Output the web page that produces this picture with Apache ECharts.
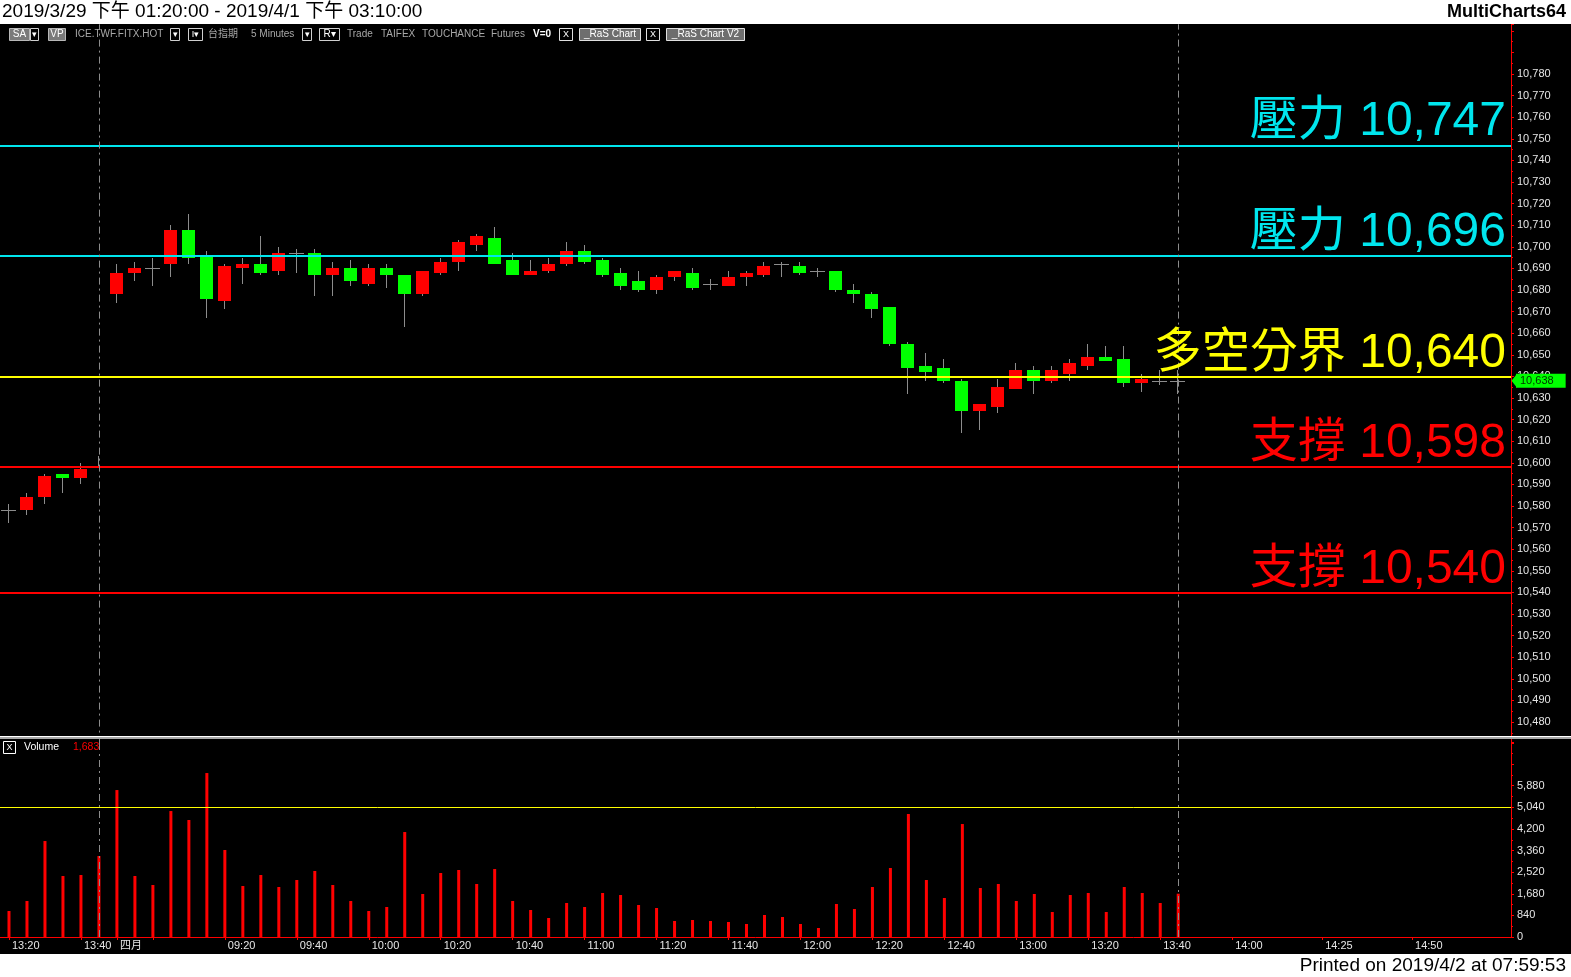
<!DOCTYPE html>
<html><head><meta charset="utf-8">
<script src="https://cdn.jsdelivr.net/npm/echarts@6/dist/echarts.min.js"></script>
<style>html,body{margin:0;padding:0;background:#000;}#c{width:1571px;height:977px;}</style>
</head><body><div id="c"></div><script>
// ---------- data ----------
const day1Times = ['13:20','13:25','13:30','13:35','13:40','13:45'];
const day2Times = ['08:50','08:55','09:00','09:05','09:10','09:15','09:20','09:25','09:30','09:35','09:40','09:45','09:50','09:55',
 '10:00','10:05','10:10','10:15','10:20','10:25','10:30','10:35','10:40','10:45','10:50','10:55',
 '11:00','11:05','11:10','11:15','11:20','11:25','11:30','11:35','11:40','11:45','11:50','11:55',
 '12:00','12:05','12:10','12:15','12:20','12:25','12:30','12:35','12:40','12:45','12:50','12:55',
 '13:00','13:05','13:10','13:15','13:20','13:25','13:30','13:35','13:40','13:45','13:50','13:55',
 '14:00','14:05','14:10','14:15','14:20','14:25','14:30','14:35','14:40','14:45','14:50','14:55',
 '15:00','15:05','15:10','15:15'];
const categories = day1Times.map(t => '3/29 ' + t).concat(day2Times.map(t => '4/1 ' + t));

const opens  = [10578,10578,10584,10595,10593,10598,
 10678,10688,10690,10692,10708,10696,10675,10690,10692,10689,10697,10697,10687,10690,10683,10690,10687,10678,10688,10693,
 10701,10704,10694,10687,10689,10692,10698,10694,10688,10684,10680,10686,10688,10683,10682,10686,10687,10692,10691,10689,
 10689,10680,10678,10672,10655,10645,10644,10638,10624,10626,10634,10643,10638,10641,10645,10649,10648,10637,10638,10638];
const highs  = [10581,10586,10595,10595,10600,10603,
 10692,10693,10695,10710,10715,10698,10692,10695,10705,10700,10699,10699,10693,10694,10692,10692,10687,10689,10695,10703,
 10706,10709,10697,10694,10695,10702,10701,10695,10690,10689,10687,10689,10690,10685,10689,10689,10693,10693,10693,10690,
 10689,10683,10679,10672,10656,10651,10648,10639,10627,10639,10646,10645,10645,10648,10655,10654,10654,10641,10643,10643];
const lows   = [10572,10576,10581,10586,10590,10598,
 10674,10684,10682,10686,10692,10667,10671,10683,10687,10687,10688,10677,10677,10682,10682,10681,10663,10677,10687,10689,
 10698,10692,10687,10687,10688,10691,10692,10686,10680,10679,10678,10684,10680,10680,10682,10682,10686,10686,10687,10686,
 10679,10674,10667,10654,10632,10638,10637,10614,10615,10623,10634,10632,10637,10638,10643,10647,10635,10633,10636,10632];
const closes = [10578,10584,10594,10593,10597,10598,
 10688,10690,10690,10708,10695,10676,10691,10692,10688,10697,10697,10687,10690,10684,10690,10687,10678,10689,10693,10702,
 10705,10692,10687,10689,10692,10698,10693,10687,10682,10680,10686,10689,10681,10683,10686,10688,10691,10692,10688,10689,
 10680,10678,10671,10655,10644,10642,10638,10624,10627,10635,10643,10638,10643,10646,10649,10647,10637,10639,10638,10638];
const volumes = [1010,1399,3730,2370,2409,3148,
 5712,2370,2021,4896,4547,6373,3381,1982,2409,1943,2215,2565,2021,1399,1010,1166,4080,1671,2487,2604,
 2060,2642,1399,1049,738,1321,1166,1710,1632,1243,1127,622,661,622,583,505,855,777,505,350,
 1282,1088,1943,2681,4780,2215,1515,4391,1904,2060,1399,1671,971,1632,1710,971,1943,1710,1321,1683];

const levelNames  = ['壓力','壓力','多空分界','支撐','支撐'];
const levelValues = [10747,10696,10640,10598,10540];
const levelColors = ['#00e6ee','#00e6ee','#ffff00','#ff0000','#ff0000'];
const volumeLevel = 5040;
const sessionEnds = ['3/29 13:45','4/1 13:45'];

const tickLabels = {
 '3/29 13:20':'13:20','3/29 13:40':'13:40','4/1 08:50':'四月','4/1 09:00':'',
 '4/1 09:20':'09:20','4/1 09:40':'09:40','4/1 10:00':'10:00','4/1 10:20':'10:20','4/1 10:40':'10:40',
 '4/1 11:00':'11:00','4/1 11:20':'11:20','4/1 11:40':'11:40','4/1 12:00':'12:00','4/1 12:20':'12:20',
 '4/1 12:40':'12:40','4/1 13:00':'13:00','4/1 13:20':'13:20','4/1 13:40':'13:40','4/1 14:00':'14:00',
 '4/1 14:25':'14:25','4/1 14:50':'14:50'};
const priceTicksShown = [10480, 10780];
const volumeTicksShownMax = 5880;

// ---------- helpers ----------
const FONT = "'Liberation Sans','Noto Sans CJK TC',sans-serif";
const fmt = v => Number(v).toLocaleString('en-US');
const GRAY = '#8c8c8c';
const candleData = opens.map((o, i) => [i, o, closes[i], lows[i], highs[i]]);
const lastClose = closes[closes.length - 1];
const lastVolume = volumes[volumes.length - 1];

function renderCandle(params, api) {
  const i = api.value(0), o = api.value(1), c = api.value(2), l = api.value(3), h = api.value(4);
  const pO = api.coord([i, o]), pC = api.coord([i, c]), pL = api.coord([i, l]), pH = api.coord([i, h]);
  const cx = Math.round(pO[0]) - 1;
  const children = [{type:'line', shape:{x1:cx + 0.5, y1:Math.round(pH[1]), x2:cx + 0.5, y2:Math.round(pL[1])},
    style:{stroke:GRAY, lineWidth:1}}];
  if (o === c) {
    const y = Math.round(pO[1]) + 0.5;
    children.push({type:'line', shape:{x1:cx - 7, y1:y, x2:cx + 8, y2:y}, style:{stroke:GRAY, lineWidth:1}});
  } else {
    const top = Math.round(Math.min(pO[1], pC[1])), bot = Math.round(Math.max(pO[1], pC[1]));
    children.push({type:'rect', shape:{x:cx - 6, y:top, width:13, height:Math.max(1, bot - top)},
      style:{fill: c > o ? '#ff0000' : '#00ff00'}});
  }
  return {type:'group', children};
}

function txt(x, y, s, o) {
  return {type:'text', x, y, silent:true, z:50,
    style:Object.assign({text:s, fill:'#a8a8a8', fontSize:10, fontFamily:FONT, verticalAlign:'middle', align:'left'}, o || {})};
}
function box(x, y, w, h, fill, stroke) {
  return {type:'rect', silent:true, z:50, shape:{x, y, width:w, height:h}, style:{fill, stroke, lineWidth:1}};
}
const TY = 34.5;
const chrome = [
  {type:'rect', silent:true, z:40, shape:{x:0, y:0, width:1571, height:24}, style:{fill:'#ffffff'}},
  {type:'rect', silent:true, z:40, shape:{x:0, y:954, width:1571, height:23}, style:{fill:'#ffffff'}},
  txt(2, 12, '2019/3/29 下午 01:20:00 - 2019/4/1 下午 03:10:00', {fill:'#000', fontSize:19}),
  txt(1566, 12, 'MultiCharts64', {fill:'#000', fontSize:18, fontWeight:'bold', align:'right'}),
  txt(1566, 965.5, 'Printed on 2019/4/2 at 07:59:53', {fill:'#000', fontSize:19, align:'right'}),
  // toolbar
  box(9.5, 28.5, 20, 12, '#7a7a7a', '#b8b8b8'), txt(19.5, TY, 'SA', {fill:'#fff', align:'center'}),
  box(30.5, 28.5, 8, 12, '#000', '#d0d0d0'), txt(34.5, TY, '▾', {fill:'#fff', align:'center', fontSize:9}),
  box(48.5, 28.5, 17, 12, '#7a7a7a', '#b8b8b8'), txt(57, TY, 'VP', {fill:'#fff', align:'center'}),
  txt(75, TY, 'ICE.TWF.FITX.HOT'),
  box(170.5, 28.5, 9, 12, '#000', '#d0d0d0'), txt(175, TY, '▾', {fill:'#fff', align:'center', fontSize:9}),
  box(188.5, 28.5, 14, 12, '#000', '#d0d0d0'), txt(195.5, TY, 'I▾', {fill:'#fff', align:'center', fontSize:9}),
  txt(208, TY, '台指期'),
  txt(251, TY, '5 Minutes'),
  box(302.5, 28.5, 9, 12, '#000', '#d0d0d0'), txt(307, TY, '▾', {fill:'#fff', align:'center', fontSize:9}),
  box(319.5, 28.5, 20, 12, '#000', '#d0d0d0'), txt(329.5, TY, 'R▾', {fill:'#fff', align:'center'}),
  txt(347, TY, 'Trade'), txt(381, TY, 'TAIFEX'), txt(422, TY, 'TOUCHANCE'), txt(491, TY, 'Futures'),
  txt(533, TY, 'V=0', {fill:'#fff', fontWeight:'bold'}),
  box(559.5, 28.5, 13, 12, '#000', '#e0e0e0'), txt(566, TY, 'X', {fill:'#fff', align:'center', fontSize:9}),
  box(579.5, 28.5, 61, 12, '#6e6e6e', '#e0e0e0'), txt(610, TY, '_RaS Chart', {fill:'#fff', align:'center'}),
  box(646.5, 28.5, 13, 12, '#000', '#e0e0e0'), txt(653, TY, 'X', {fill:'#fff', align:'center', fontSize:9}),
  box(666.5, 28.5, 78, 12, '#6e6e6e', '#e0e0e0'), txt(705.5, TY, '_RaS Chart V2', {fill:'#fff', align:'center'}),
  // panel separator
  {type:'rect', silent:true, z:45, shape:{x:0, y:736, width:1571, height:1}, style:{fill:'#ffffff'}},
  {type:'rect', silent:true, z:45, shape:{x:0, y:737, width:1571, height:2}, style:{fill:'#a8a8a8'}},
  // volume header
  box(3.5, 741.5, 12, 12, '#000', '#ffffff'), txt(9.5, 747.5, 'X', {fill:'#fff', align:'center', fontSize:9}),
  txt(24, 747.5, 'Volume', {fill:'#fff', fontSize:10.5}),
  txt(73, 747.5, fmt(lastVolume), {fill:'#ff0000', fontSize:10.5})
];

const showTick = (idx, val) => Object.prototype.hasOwnProperty.call(tickLabels, val);
const axisLabelStyle = {color:'#e6e6e6', fontSize:11, fontFamily:FONT};
const levelMarks = levelValues.map((v, k) => ({
  yAxis: v,
  lineStyle: {color: levelColors[k], width: 2, type: 'solid'},
  label: {show: true, position: 'insideEndTop', distance: [5, -1], formatter: levelNames[k] + ' ' + fmt(v),
    color: levelColors[k], fontSize: 48, fontFamily: FONT, fontWeight: 'normal'}
}));
const sessionMarks = sessionEnds.map(c => ({xAxis: c, lineStyle: {color: GRAY, width: 1, type: [7, 4, 2, 4]}, label: {show: false}}));

const chart = echarts.init(document.getElementById('c'), null, {renderer: 'canvas'});
chart.setOption({
  animation: false,
  backgroundColor: '#000',
  graphic: chrome,
  grid: [
    {left: 0, right: 60, top: 24.3, height: 719.3, outerBoundsMode: 'none'},
    {left: 0, right: 60, top: 742.5, bottom: 40, outerBoundsMode: 'none'}
  ],
  xAxis: [
    {type: 'category', gridIndex: 0, data: categories, boundaryGap: true, show: false},
    {type: 'category', gridIndex: 1, data: categories, boundaryGap: true,
      axisLine: {show: true, lineStyle: {color: '#ff0000', width: 1}},
      axisTick: {show: true, interval: showTick, alignWithLabel: true, length: 3, lineStyle: {color: '#ff0000'}},
      axisLabel: Object.assign({interval: showTick, formatter: v => tickLabels[v] || '', align: 'left', margin: 3, padding: [0, 0, 0, 3]}, axisLabelStyle),
      splitLine: {show: false}}
  ],
  yAxis: [
    {type: 'value', gridIndex: 0, position: 'right', min: 10470, max: 10803, interval: 10, scale: true,
      axisLine: {show: true, lineStyle: {color: '#ff0000', width: 1}},
      axisTick: {show: true, length: 3, lineStyle: {color: '#ff0000'}},
      minorTick: {show: true, splitNumber: 2, length: 2, lineStyle: {color: '#ff0000'}},
      axisLabel: Object.assign({margin: 6, showMinLabel: true, showMaxLabel: true,
        formatter: v => (v < priceTicksShown[0] || v > priceTicksShown[1]) ? '' : fmt(v)}, axisLabelStyle),
      splitLine: {show: false}},
    {type: 'value', gridIndex: 1, position: 'right', min: 0, max: 7560, interval: 840,
      axisLine: {show: true, lineStyle: {color: '#ff0000', width: 1}},
      axisTick: {show: true, length: 3, lineStyle: {color: '#ff0000'}},
      minorTick: {show: true, splitNumber: 2, length: 2, lineStyle: {color: '#ff0000'}},
      axisLabel: Object.assign({margin: 6, showMinLabel: true,
        formatter: v => v > volumeTicksShownMax ? '' : fmt(v)}, axisLabelStyle),
      splitLine: {show: false}}
  ],
  series: [
    {name: 'levels', type: 'line', xAxisIndex: 0, yAxisIndex: 0, data: closes, showSymbol: false, silent: true,
      lineStyle: {width: 0, color: 'rgba(0,0,0,0)'}, z: 1,
      markLine: {silent: true, symbol: 'none', animation: false,
        data: levelMarks.concat(sessionMarks)}},
    {name: 'lastPrice', type: 'line', xAxisIndex: 0, yAxisIndex: 0, data: [], silent: true, z: 6,
      markLine: {silent: true, symbol: 'none', animation: false,
        data: [{
          yAxis: lastClose, lineStyle: {width: 0, color: 'rgba(0,0,0,0)'},
          label: {show: true, position: 'end', distance: 5, formatter: fmt(lastClose), color: '#003300',
            backgroundColor: '#00ff00', fontSize: 11, fontFamily: FONT, padding: [2, 12, 1, 4]}
        }]}},
    {name: 'price', type: 'custom', xAxisIndex: 0, yAxisIndex: 0, data: candleData, renderItem: renderCandle,
      encode: {x: 0, y: [1, 2, 3, 4]}, silent: true, z: 3},
    {name: 'Volume', type: 'bar', xAxisIndex: 1, yAxisIndex: 1, data: volumes, barWidth: 3,
      itemStyle: {color: '#ff0000'}, silent: true,
      markLine: {silent: true, symbol: 'none', animation: false,
        data: [{yAxis: volumeLevel, lineStyle: {color: '#ffff00', width: 1, type: 'solid'}, label: {show: false}}]
          .concat(sessionMarks)}}
  ]
});
// arrow of the last-price tag, positioned through the price axis
const tagY = chart.convertToPixel({yAxisIndex: 0}, lastClose);
const axisX = chart.convertToPixel({xAxisIndex: 0}, categories.length - 1) + (chart.convertToPixel({xAxisIndex: 0}, 1) - chart.convertToPixel({xAxisIndex: 0}, 0)) / 2;
chart.setOption({graphic: chrome.concat([{type: 'polygon', silent: true, z: 60,
  shape: {points: [[axisX + 0.5, tagY], [axisX + 6, tagY - 7], [axisX + 6, tagY + 7]]}, style: {fill: '#00ff00'}}])});
</script></body></html>
